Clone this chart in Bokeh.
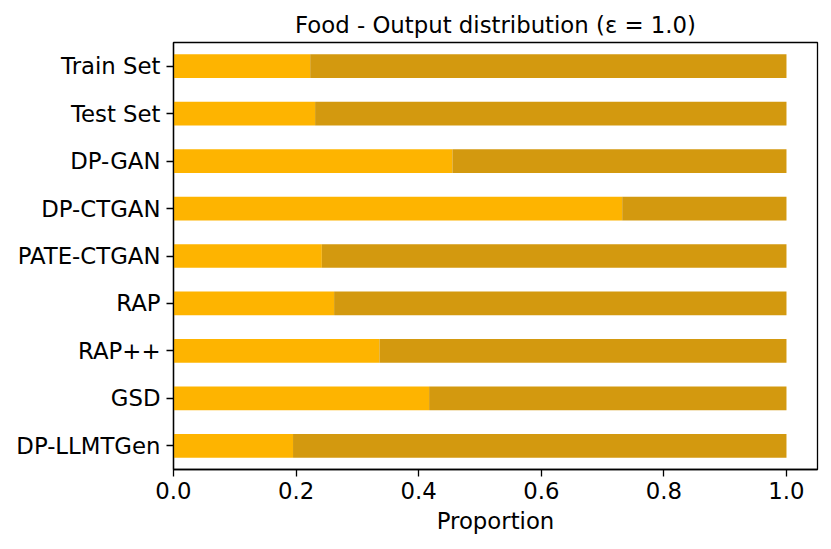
from bokeh.plotting import figure
from bokeh.models import ColumnDataSource, Range1d, FactorRange, FixedTicker, NumeralTickFormatter
from bokeh.embed import file_html
from bokeh.resources import INLINE

categories = ["Train Set", "Test Set", "DP-GAN", "DP-CTGAN", "PATE-CTGAN",
              "RAP", "RAP++", "GSD", "DP-LLMTGen"]
class_a = [0.223, 0.231, 0.455, 0.732, 0.242, 0.262, 0.336, 0.417, 0.195]
class_b = [0.777, 0.769, 0.545, 0.268, 0.758, 0.738, 0.664, 0.583, 0.805]
x_ticks = [0.0, 0.2, 0.4, 0.6, 0.8, 1.0]

FONT = "DejaVu Sans"
FS = "22.8px"

src = ColumnDataSource(dict(cat=categories, a=class_a, b=class_b))

p = figure(
    y_range=FactorRange(factors=list(reversed(categories)), range_padding=0),
    x_range=Range1d(0, 1.0506),
    frame_width=644, frame_height=427,
    min_border_left=173, min_border_right=6, min_border_top=42, min_border_bottom=72,
    output_backend="svg", toolbar_location=None,
    title="Food - Output distribution (\u03b5 = 1.0)",
)

p.hbar_stack(["a", "b"], y="cat", height=0.5, color=["#FEB400", "#D3990F"],
             line_color=None, source=src)

p.title.align = "center"
p.title.text_font = FONT
p.title.text_font_size = FS
p.title.text_font_style = "normal"
p.title.text_color = "black"
p.title.standoff = 10

p.xgrid.grid_line_color = None
p.ygrid.grid_line_color = None
p.outline_line_color = "black"
p.outline_line_width = 1.3
p.outline_line_alpha = 1.0

for ax in (p.xaxis[0], p.yaxis[0]):
    ax.axis_line_color = "black"
    ax.axis_line_width = 1.3
    ax.major_tick_line_color = "black"
    ax.major_tick_line_width = 1.3
    ax.major_tick_out = 7
    ax.major_tick_in = 0
    ax.minor_tick_line_color = None
    ax.major_label_text_font = FONT
    ax.major_label_text_font_size = FS
    ax.major_label_text_color = "black"

p.xaxis.ticker = FixedTicker(ticks=x_ticks)
p.xaxis.formatter = NumeralTickFormatter(format="0.0")
p.xaxis.major_label_standoff = 5
p.xaxis.axis_label = "Proportion"
p.xaxis.axis_label_text_font = FONT
p.xaxis.axis_label_text_font_size = FS
p.xaxis.axis_label_text_font_style = "normal"
p.xaxis.axis_label_text_color = "black"
p.xaxis.axis_label_standoff = 6
p.yaxis.major_label_standoff = 6

open("out.html", "w").write(file_html(p, INLINE))
